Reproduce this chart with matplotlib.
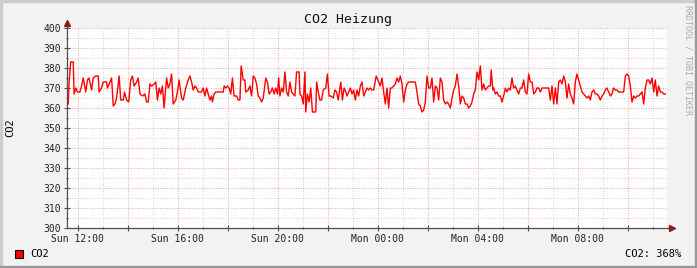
import matplotlib
matplotlib.use("Agg")
import matplotlib.pyplot as plt
import matplotlib.dates as mdates
from matplotlib.patches import Rectangle
import pandas as pd

# minutes after the window start (Sun 11:34) and CO2 readings
minutes = [
    0, 3, 5, 9, 15, 17, 21, 25, 31, 35, 39, 45, 49, 53, 59, 63, 69, 75, 77, 83,
    87, 95, 97, 103, 107, 111, 115, 119, 125, 129, 135, 138, 143, 148, 153, 157, 161, 167, 171, 175,
    181, 187, 191, 195, 199, 203, 209, 213, 217, 221, 225, 229, 233, 239, 243, 247, 251, 255, 261, 265,
    269, 275, 279, 285, 291, 295, 299, 303, 307, 311, 315, 323, 327, 331, 335, 339, 343, 347, 349, 353,
    357, 363, 375, 377, 381, 385, 389, 393, 397, 401, 407, 411, 415, 418, 423, 427, 429, 435, 439, 443,
    447, 451, 455, 459, 463, 467, 471, 477, 481, 485, 489, 493, 497, 501, 505, 508, 511, 515, 519, 523,
    527, 531, 535, 539, 543, 547, 551, 557, 559, 563, 567, 571, 573, 577, 581, 585, 589, 597, 599, 603,
    607, 611, 615, 621, 625, 629, 633, 639, 643, 647, 651, 655, 657, 661, 665, 669,
    672, 680, 684, 688, 692, 696, 700, 704, 708, 712, 716, 720, 724, 728, 732, 736, 742, 746, 752, 756,
    760, 764, 768, 772, 776, 780, 784, 788, 792, 796, 800, 804, 808, 812, 816, 820, 836, 840, 844, 848,
    852, 856, 860, 864, 868, 872, 876, 880, 884, 888, 892, 896, 900, 904, 908, 912, 916, 920, 924, 928,
    932, 936, 940, 944, 948, 952, 956, 960, 964, 968, 972, 976, 980, 984, 988, 992, 996, 1000, 1004, 1008,
    1012, 1016, 1018, 1022, 1024, 1028, 1032, 1036, 1040, 1044, 1048, 1052, 1056, 1060, 1064, 1068, 1072, 1076, 1080, 1084,
    1088, 1092, 1096, 1100, 1104, 1108, 1112, 1116, 1120, 1124, 1128, 1132, 1136, 1140, 1156, 1160, 1164, 1168, 1172, 1176,
    1180, 1184, 1188, 1192, 1196, 1200, 1204, 1208, 1212, 1216, 1220, 1224, 1228, 1232, 1236, 1240, 1244, 1248, 1252, 1256,
    1260, 1264, 1268, 1272, 1276, 1280, 1284, 1288, 1292, 1296, 1300, 1304, 1308, 1312, 1316, 1320, 1324, 1328, 1336, 1340,
    1344, 1348, 1352, 1356, 1360, 1364, 1368, 1372, 1376, 1380, 1384, 1388, 1392, 1396, 1400, 1404, 1408, 1412, 1416, 1420,
    1424, 1428, 1432, 1436,
]
co2 = [
    362, 362, 373, 383, 383, 367, 370, 368, 368, 371, 375, 368, 374, 375, 369, 375, 376, 376, 368, 370,
    373, 373, 370, 373, 375, 361, 362, 365, 376, 364, 364, 368, 364, 363, 374, 376, 371, 373, 375, 367,
    366, 367, 363, 363, 372, 371, 372, 373, 364, 370, 367, 371, 360, 375, 370, 372, 377, 362, 364, 368,
    374, 365, 364, 370, 374, 376, 373, 369, 371, 370, 368, 368, 370, 366, 370, 367, 364, 366, 363, 367,
    368, 368, 368, 371, 370, 371, 370, 367, 375, 366, 366, 364, 364, 381, 374, 374, 368, 369, 371, 366,
    376, 375, 372, 366, 365, 363, 365, 375, 373, 367, 368, 370, 367, 370, 367, 375, 366, 370, 368, 378,
    368, 366, 373, 368, 367, 366, 378, 378, 367, 366, 362, 378, 358, 367, 363, 370, 358, 358, 373, 368,
    364, 364, 369, 370, 377, 366, 366, 365, 369, 368, 364, 370, 373, 364, 370, 368,
    366, 370, 367, 369, 364, 369, 366, 371, 373, 366, 368, 370, 369, 370, 369, 369, 376, 374, 371, 375,
    368, 362, 370, 360, 370, 370, 371, 372, 375, 373, 376, 372, 363, 369, 372, 373, 373, 368, 362, 361,
    358, 359, 363, 376, 370, 370, 375, 363, 371, 370, 364, 375, 373, 364, 362, 363, 362, 360, 365, 369,
    371, 377, 371, 362, 366, 365, 362, 362, 360, 361, 363, 367, 369, 378, 374, 381, 369, 372, 369, 370,
    371, 371, 379, 369, 370, 367, 368, 366, 366, 363, 366, 370, 368, 370, 369, 375, 370, 371, 369, 367,
    370, 370, 374, 368, 367, 377, 373, 373, 367, 368, 370, 370, 368, 370, 370, 364, 371, 362, 370, 362,
    373, 374, 372, 376, 373, 365, 372, 367, 365, 362, 373, 377, 374, 371, 368, 367, 366, 365, 366, 364,
    368, 369, 367, 367, 366, 364, 366, 367, 369, 370, 368, 366, 367, 370, 369, 369, 368, 368, 368, 376,
    377, 376, 371, 363, 366, 365, 366, 366, 367, 368, 362, 370, 374, 374, 372, 375, 368, 374, 366, 371,
    368, 368, 367, 367,
]
last_value = 368
title = "CO2 Heizung"
start = pd.Timestamp("2024-03-03 11:34")

times = start + pd.to_timedelta(minutes, unit="min")

W, H = 697, 268
fig = plt.figure(figsize=(W / 100, H / 100), dpi=100, facecolor="#f2f2f2")
ax = fig.add_axes([67 / W, (H - 228) / H, 600 / W, 200 / H])
ax.set_facecolor("white")

mono = "DejaVu Sans Mono"

ax.plot(times, co2, color="#ff0000", linewidth=1.0, zorder=3)

ax.set_xlim(start, start + pd.Timedelta(minutes=1440))
ax.set_ylim(300, 400)

ax.xaxis.set_major_locator(mdates.HourLocator(byhour=range(0, 24, 2)))
ax.xaxis.set_minor_locator(mdates.HourLocator())


def fmt(x, pos=None):
    d = mdates.num2date(x)
    return d.strftime("%a %H:%M") if d.hour % 4 == 0 else ""


ax.xaxis.set_major_formatter(plt.FuncFormatter(fmt))
ax.set_yticks(range(300, 401, 10))
ax.set_yticks(range(305, 400, 10), minor=True)

# rrdtool style dotted grid
ax.grid(which="major", color="#f3a6a6", linestyle=(0, (1, 1.5)), linewidth=0.7)
ax.grid(which="minor", color="#d2d2d2", linestyle=(0, (1, 1.5)), linewidth=0.7)
ax.set_axisbelow(True)

for s in ["top", "right"]:
    ax.spines[s].set_visible(False)
for s in ["left", "bottom"]:
    ax.spines[s].set_color("#505050")
    ax.spines[s].set_linewidth(0.9)

ax.tick_params(which="major", direction="inout", length=4, width=0.8, color="#505050",
               labelsize=7, labelcolor="#222222", pad=2)
ax.tick_params(which="minor", direction="inout", length=2, width=0.8, color="#505050")
for lab in ax.get_xticklabels() + ax.get_yticklabels():
    lab.set_family(mono)

# axis extensions with arrows
ax.plot([0, 0], [1.0, 1.025], color="#505050", lw=0.9, transform=ax.transAxes, clip_on=False)
ax.plot([1.0, 1.008], [0, 0], color="#505050", lw=0.9, transform=ax.transAxes, clip_on=False)
ax.plot([0], [1.025], marker="^", ms=4.5, color="#8b1a1a", transform=ax.transAxes, clip_on=False)
ax.plot([1.008], [0], marker=">", ms=4.5, color="#8b1a1a", transform=ax.transAxes, clip_on=False)

fig.text(348 / W, 1 - 19 / H, title, family=mono, fontsize=9.5, ha="center", va="center", color="#111111")
fig.text(10 / W, 1 - 128 / H, "CO2", family=mono, fontsize=7.5, rotation=90, ha="center", va="center")
fig.text(688 / W, 1 - 60 / H, "RRDTOOL / TOBI OETIKER", family=mono, fontsize=6, rotation=270,
         ha="center", va="center", color="#aaaaaa")

# legend
fig.add_artist(Rectangle((15 / W, 1 - 258 / H), 8 / W, 8 / H, transform=fig.transFigure,
                         facecolor="#ff0000", edgecolor="black", linewidth=0.8))
fig.text(30 / W, 1 - 254 / H, "CO2", family=mono, fontsize=7.5, ha="left", va="center")
fig.text(681 / W, 1 - 254 / H, f"CO2: {last_value}%", family=mono, fontsize=7.5, ha="right", va="center")

# 3d frame
fig.add_artist(Rectangle((0, 1 - 2 / H), 1, 2 / H, transform=fig.transFigure, color="#cccccc"))
fig.add_artist(Rectangle((0, 0), 2 / W, 1, transform=fig.transFigure, color="#cccccc"))
fig.add_artist(Rectangle((0, 0), 1, 2 / H, transform=fig.transFigure, color="#999999"))
fig.add_artist(Rectangle((1 - 2 / W, 0), 2 / W, 1, transform=fig.transFigure, color="#999999"))

fig.savefig("out.png", dpi=100, facecolor=fig.get_facecolor())
